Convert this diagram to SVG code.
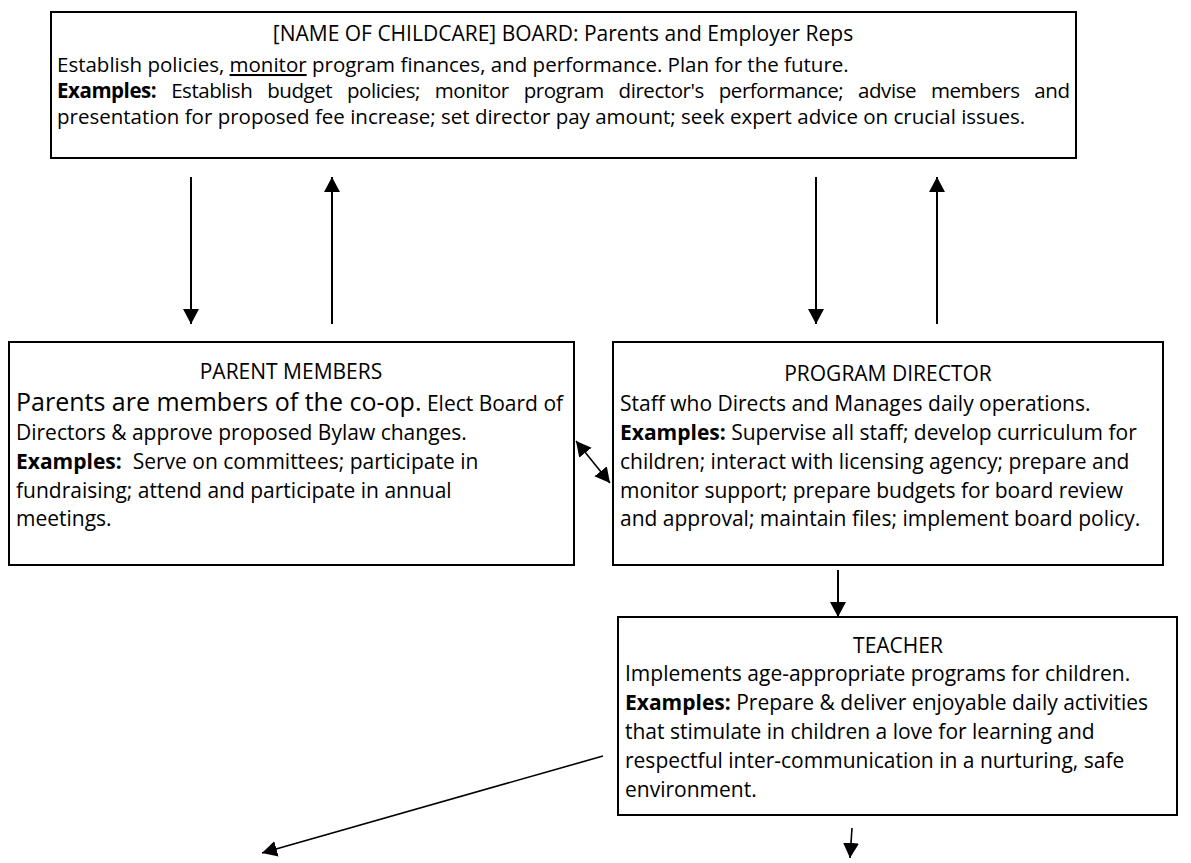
<svg xmlns="http://www.w3.org/2000/svg" width="1191" height="863" viewBox="0 0 1191 863">
<defs>
<style>
.box{fill:#fff;stroke:#000;stroke-width:2}
.t{font-family:"Open Sans","Liberation Sans",sans-serif;font-size:21px;fill:#000}
.bt{font-family:"Open Sans","Liberation Sans",sans-serif;font-size:20.5px;fill:#000}
.h{font-family:"Open Sans","Liberation Sans",sans-serif;font-size:21px;fill:#000}
.b{font-weight:bold}
.c{stroke:#000;stroke-width:2;fill:none}
.c1{stroke:#000;stroke-width:1.6;fill:none}
</style>
<marker id="ah" viewBox="0 0 15 16" refX="15" refY="8" markerWidth="15" markerHeight="16" markerUnits="userSpaceOnUse" orient="auto-start-reverse">
<path d="M0,0 L15,8 L0,16 z" fill="#000"/>
</marker>
</defs>
<rect width="1191" height="863" fill="#fff"/>

<g id="board">
<rect class="box" x="51" y="12" width="1025" height="146"/>
<text class="h" x="563" y="41" text-anchor="middle">[NAME OF CHILDCARE] BOARD: Parents and Employer Reps</text>
<text class="bt" x="57" y="72">Establish policies, <tspan text-decoration="underline">monitor</tspan> program finances, and performance. Plan for the future.</text>
<text class="bt" x="57" y="98" word-spacing="10" textLength="1013"><tspan class="b">Examples:</tspan> Establish budget policies; monitor program director's performance; advise members and</text>
<text class="bt" x="57" y="124">presentation for proposed fee increase; set director pay amount; seek expert advice on crucial issues.</text>
</g>

<g id="parent-members">
<rect class="box" x="9" y="342" width="565" height="223"/>
<text class="h" x="291" y="379" text-anchor="middle">PARENT MEMBERS</text>
<text class="t" x="16" y="411"><tspan style="font-size:25px">Parents are members of the co-op.</tspan> Elect Board of</text>
<text class="t" x="16" y="440">Directors &amp; approve proposed Bylaw changes.</text>
<text class="t" x="16" y="469"><tspan class="b">Examples:</tspan>&#160; Serve on committees; participate in</text>
<text class="t" x="16" y="498">fundraising; attend and participate in annual</text>
<text class="t" x="16" y="526">meetings.</text>
</g>

<g id="program-director">
<rect class="box" x="613" y="342" width="550" height="223"/>
<text class="h" x="888" y="381" text-anchor="middle">PROGRAM DIRECTOR</text>
<text class="t" x="620" y="411">Staff who Directs and Manages daily operations.</text>
<text class="t" x="620" y="440"><tspan class="b">Examples:</tspan> Supervise all staff; develop curriculum for</text>
<text class="t" x="620" y="469">children; interact with licensing agency; prepare and</text>
<text class="t" x="620" y="498">monitor support; prepare budgets for board review</text>
<text class="t" x="620" y="526">and approval; maintain files; implement board policy.</text>
</g>

<g id="teacher">
<rect class="box" x="618" y="617" width="559" height="198"/>
<text class="h" x="898" y="653" text-anchor="middle">TEACHER</text>
<text class="t" x="625" y="681">Implements age-appropriate programs for children.</text>
<text class="t" x="625" y="710"><tspan class="b">Examples:</tspan> Prepare &amp; deliver enjoyable daily activities</text>
<text class="t" x="625" y="739">that stimulate in children a love for learning and</text>
<text class="t" x="625" y="768">respectful inter-communication in a nurturing, safe</text>
<text class="t" x="625" y="797">environment.</text>
</g>

<g id="connectors">
<line class="c" x1="191" y1="177" x2="191" y2="324" marker-end="url(#ah)"/>
<line class="c" x1="332" y1="324" x2="332" y2="177" marker-end="url(#ah)"/>
<line class="c" x1="816" y1="177" x2="816" y2="324" marker-end="url(#ah)"/>
<line class="c" x1="937" y1="324" x2="937" y2="177" marker-end="url(#ah)"/>
<line class="c1" x1="576" y1="441" x2="610" y2="483" marker-start="url(#ah)" marker-end="url(#ah)"/>
<line class="c" x1="838" y1="570" x2="838" y2="617" marker-end="url(#ah)"/>
<line class="c1" x1="603" y1="756" x2="262" y2="853" marker-end="url(#ah)"/>
<line class="c1" x1="852" y1="828" x2="850" y2="858" marker-end="url(#ah)"/>
</g>
</svg>
